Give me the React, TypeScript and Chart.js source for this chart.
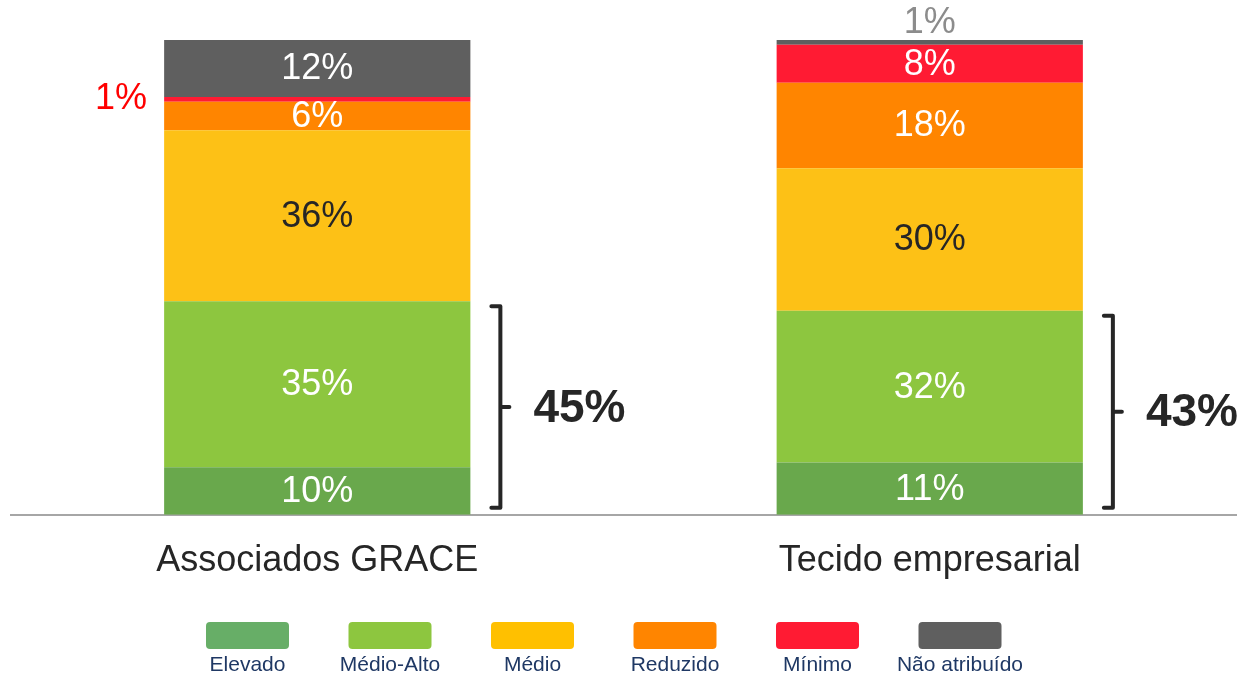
import React, { useEffect, useRef } from "react";
import { Chart, registerables } from "chart.js";

Chart.register(...registerables);

const categories = ["Associados GRACE", "Tecido empresarial"];
const seriesNames = ["Elevado", "Médio-Alto", "Médio", "Reduzido", "Mínimo", "Não atribuído"];
const elevado = [10, 11];
const medioAlto = [35, 32];
const medio = [36, 30];
const reduzido = [6, 18];
const minimo = [1, 8];
const naoAtribuido = [12, 1];
const seriesColors = ["#69A84C", "#8DC63F", "#FDC116", "#FF8500", "#FF1B33", "#5F5F5F"];
const legendColors = ["#67AE67", "#8DC63F", "#FFC000", "#FF8500", "#FF1B33", "#5F5F5F"];
const labelColors = ["#FFFFFF", "#FFFFFF", "#262626", "#FFFFFF", "#FFFFFF", "#FFFFFF"];

const FONT = "'Liberation Sans', Arial, sans-serif";

const dataLabelPlugin = {
  id: "dataLabels",
  afterDatasetsDraw(chart: any) {
    const ctx = chart.ctx;
    const nSets = chart.data.datasets.length;
    ctx.save();
    chart.data.datasets.forEach((ds: any, di: number) => {
      const meta = chart.getDatasetMeta(di);
      meta.data.forEach((el: any, i: number) => {
        const v = ds.data[i];
        const txt = v + "%";
        const left = el.x - el.width / 2;
        const cy = (el.y + el.base) / 2;
        ctx.font = `36px ${FONT}`;
        if (v < 3) {
          if (di === nSets - 1) {
            ctx.fillStyle = "#8C8C8C";
            ctx.textAlign = "center";
            ctx.textBaseline = "middle";
            ctx.fillText(txt, el.x, el.y - 17);
          } else {
            ctx.fillStyle = "#FF0000";
            ctx.textAlign = "right";
            ctx.textBaseline = "middle";
            ctx.fillText(txt, left - 17, cy);
          }
        } else {
          ctx.fillStyle = labelColors[di];
          ctx.textAlign = "center";
          ctx.textBaseline = "middle";
          ctx.fillText(txt, el.x, cy + 1);
        }
      });
    });
    ctx.restore();
  },
};

const bracketPlugin = {
  id: "brackets",
  afterDraw(chart: any) {
    const ctx = chart.ctx;
    const yScale = chart.scales.y;
    const meta = chart.getDatasetMeta(0);
    ctx.save();
    meta.data.forEach((el: any, i: number) => {
      const total = elevado[i] + medioAlto[i];
      const right = el.x + el.width / 2;
      const x = right + 30;
      const top = yScale.getPixelForValue(total) + 5;
      const bottom = yScale.getPixelForValue(0) - 7;
      const mid = (top + bottom) / 2;
      ctx.strokeStyle = "#262626";
      ctx.lineWidth = 4;
      ctx.lineJoin = "round";
      ctx.lineCap = "round";
      ctx.beginPath();
      ctx.moveTo(x - 9, top);
      ctx.lineTo(x, top);
      ctx.lineTo(x, bottom);
      ctx.lineTo(x - 9, bottom);
      ctx.moveTo(x, mid);
      ctx.lineTo(x + 9, mid);
      ctx.stroke();
      ctx.fillStyle = "#262626";
      ctx.font = `bold 46px ${FONT}`;
      ctx.textAlign = "left";
      ctx.textBaseline = "middle";
      ctx.fillText(total + "%", x + 33, mid + 2);
    });
    ctx.restore();
  },
};

const legendPlugin = {
  id: "customLegend",
  afterDraw(chart: any) {
    const ctx = chart.ctx;
    ctx.save();
    seriesNames.forEach((name, i) => {
      const cx = 247.5 + i * 142.5;
      const w = 83;
      const h = 27;
      const x0 = cx - w / 2;
      const y0 = 622;
      ctx.fillStyle = legendColors[i];
      ctx.beginPath();
      (ctx as any).roundRect(x0, y0, w, h, 4);
      ctx.fill();
      ctx.fillStyle = "#1F3864";
      ctx.font = `21px ${FONT}`;
      ctx.textAlign = "center";
      ctx.textBaseline = "middle";
      ctx.fillText(name, cx, 665);
    });
    ctx.restore();
  },
};

export default function App() {
  const ref = useRef<HTMLCanvasElement>(null);
  useEffect(() => {
    document.body.style.margin = "0";
    const series = [elevado, medioAlto, medio, reduzido, minimo, naoAtribuido];
    const chart = new Chart(ref.current as HTMLCanvasElement, {
      type: "bar",
      data: {
        labels: categories,
        datasets: series.map((d, i) => ({
          label: seriesNames[i],
          data: d,
          backgroundColor: seriesColors[i],
          borderWidth: 0,
          barPercentage: 0.5,
          categoryPercentage: 1,
        })),
      },
      options: {
        animation: false,
        responsive: false,
        layout: { padding: { left: 11, right: 9, top: 40, bottom: 65 } },
        plugins: { legend: { display: false }, tooltip: { enabled: false } },
        scales: {
          x: {
            stacked: true,
            grid: { display: false, drawTicks: false },
            border: { display: true, color: "#A6A6A6", width: 2 },
            ticks: { color: "#262626", padding: 25, font: { family: FONT, size: 36 } },
          },
          y: { stacked: true, display: false, min: 0, max: 100 },
        },
      },
      plugins: [dataLabelPlugin, bracketPlugin, legendPlugin],
    });
    return () => chart.destroy();
  }, []);
  return <canvas ref={ref} width={1245} height={673} style={{ display: "block" }} />;
}
